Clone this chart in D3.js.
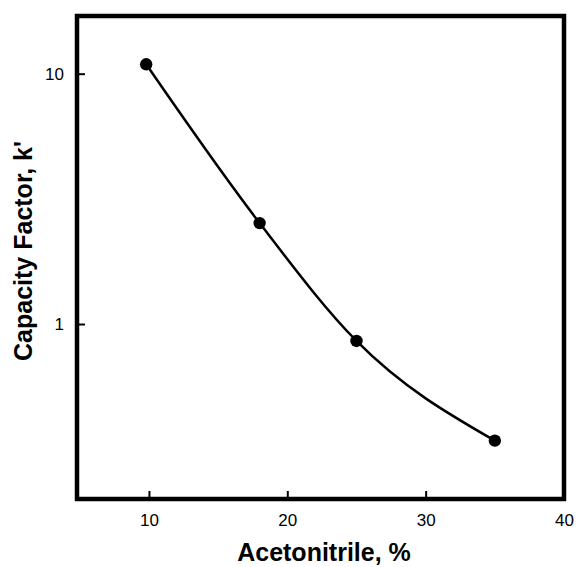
<!DOCTYPE html>
<html>
<head>
<meta charset="utf-8">
<script src="https://cdn.jsdelivr.net/npm/d3@7"></script>
<style>
  html, body { margin: 0; padding: 0; background: #fff; }
  svg { display: block; }
</style>
</head>
<body>
<svg id="chart" width="578" height="567"></svg>
<script>
// Data
const acetonitrile = [9.8, 18, 25, 35];
const capacityFactor = [10.9, 2.53, 0.856, 0.342];
const xTickValues = [10, 20, 30, 40];
const yTickValues = [1, 10];
const xTitle = "Acetonitrile, %";
const yTitle = "Capacity Factor, k'";

const points = acetonitrile.map((x, i) => ({ x, y: capacityFactor[i] }));

const svg = d3.select("#chart");
const plotLeft = 77, plotRight = 564, plotTop = 16, plotBottom = 499;

const x = d3.scaleLinear().domain([4.8, 40]).range([plotLeft, plotRight]);
const y = d3.scaleLog().domain([0.2, 17]).range([plotBottom, plotTop]);

const font = "'Liberation Sans', Arial, Helvetica, sans-serif";

// Ticks (inward)
const xAxis = d3.axisBottom(x).tickValues(xTickValues).tickSize(-8).tickPadding(15)
  .tickFormat(d3.format("d"));
const gx = svg.append("g").attr("transform", `translate(0,${plotBottom})`).call(xAxis);
gx.select(".domain").remove();
gx.selectAll(".tick line").attr("stroke", "#000").attr("stroke-width", 2);
gx.selectAll(".tick text").attr("font-family", font).attr("font-size", 17).attr("fill", "#000");

const yAxis = d3.axisLeft(y).tickValues(yTickValues).tickSize(-8).tickPadding(13)
  .tickFormat(d3.format("d"));
const gy = svg.append("g").attr("transform", `translate(${plotLeft},0)`).call(yAxis);
gy.select(".domain").remove();
gy.selectAll(".tick line").attr("stroke", "#000").attr("stroke-width", 2);
gy.selectAll(".tick text").attr("font-family", font).attr("font-size", 17).attr("fill", "#000");

// Frame
svg.append("rect")
  .attr("x", plotLeft).attr("y", plotTop)
  .attr("width", plotRight - plotLeft).attr("height", plotBottom - plotTop)
  .attr("fill", "none").attr("stroke", "#000").attr("stroke-width", 4.5);

// Curve
const line = d3.line().x(d => x(d.x)).y(d => y(d.y)).curve(d3.curveMonotoneX);
svg.append("path").datum(points)
  .attr("d", line)
  .attr("fill", "none").attr("stroke", "#000").attr("stroke-width", 2.5);

// Points
svg.selectAll("circle.pt").data(points).enter().append("circle")
  .attr("class", "pt")
  .attr("cx", d => x(d.x)).attr("cy", d => y(d.y))
  .attr("r", 6.2).attr("fill", "#000");

// Titles
svg.append("text")
  .attr("x", 324).attr("y", 561)
  .attr("text-anchor", "middle")
  .attr("font-family", font).attr("font-weight", "bold").attr("font-size", 25)
  .text(xTitle);

svg.append("text")
  .attr("transform", "translate(32,251) rotate(-90)")
  .attr("text-anchor", "middle")
  .attr("font-family", font).attr("font-weight", "bold").attr("font-size", 25)
  .text(yTitle);
</script>
</body>
</html>
